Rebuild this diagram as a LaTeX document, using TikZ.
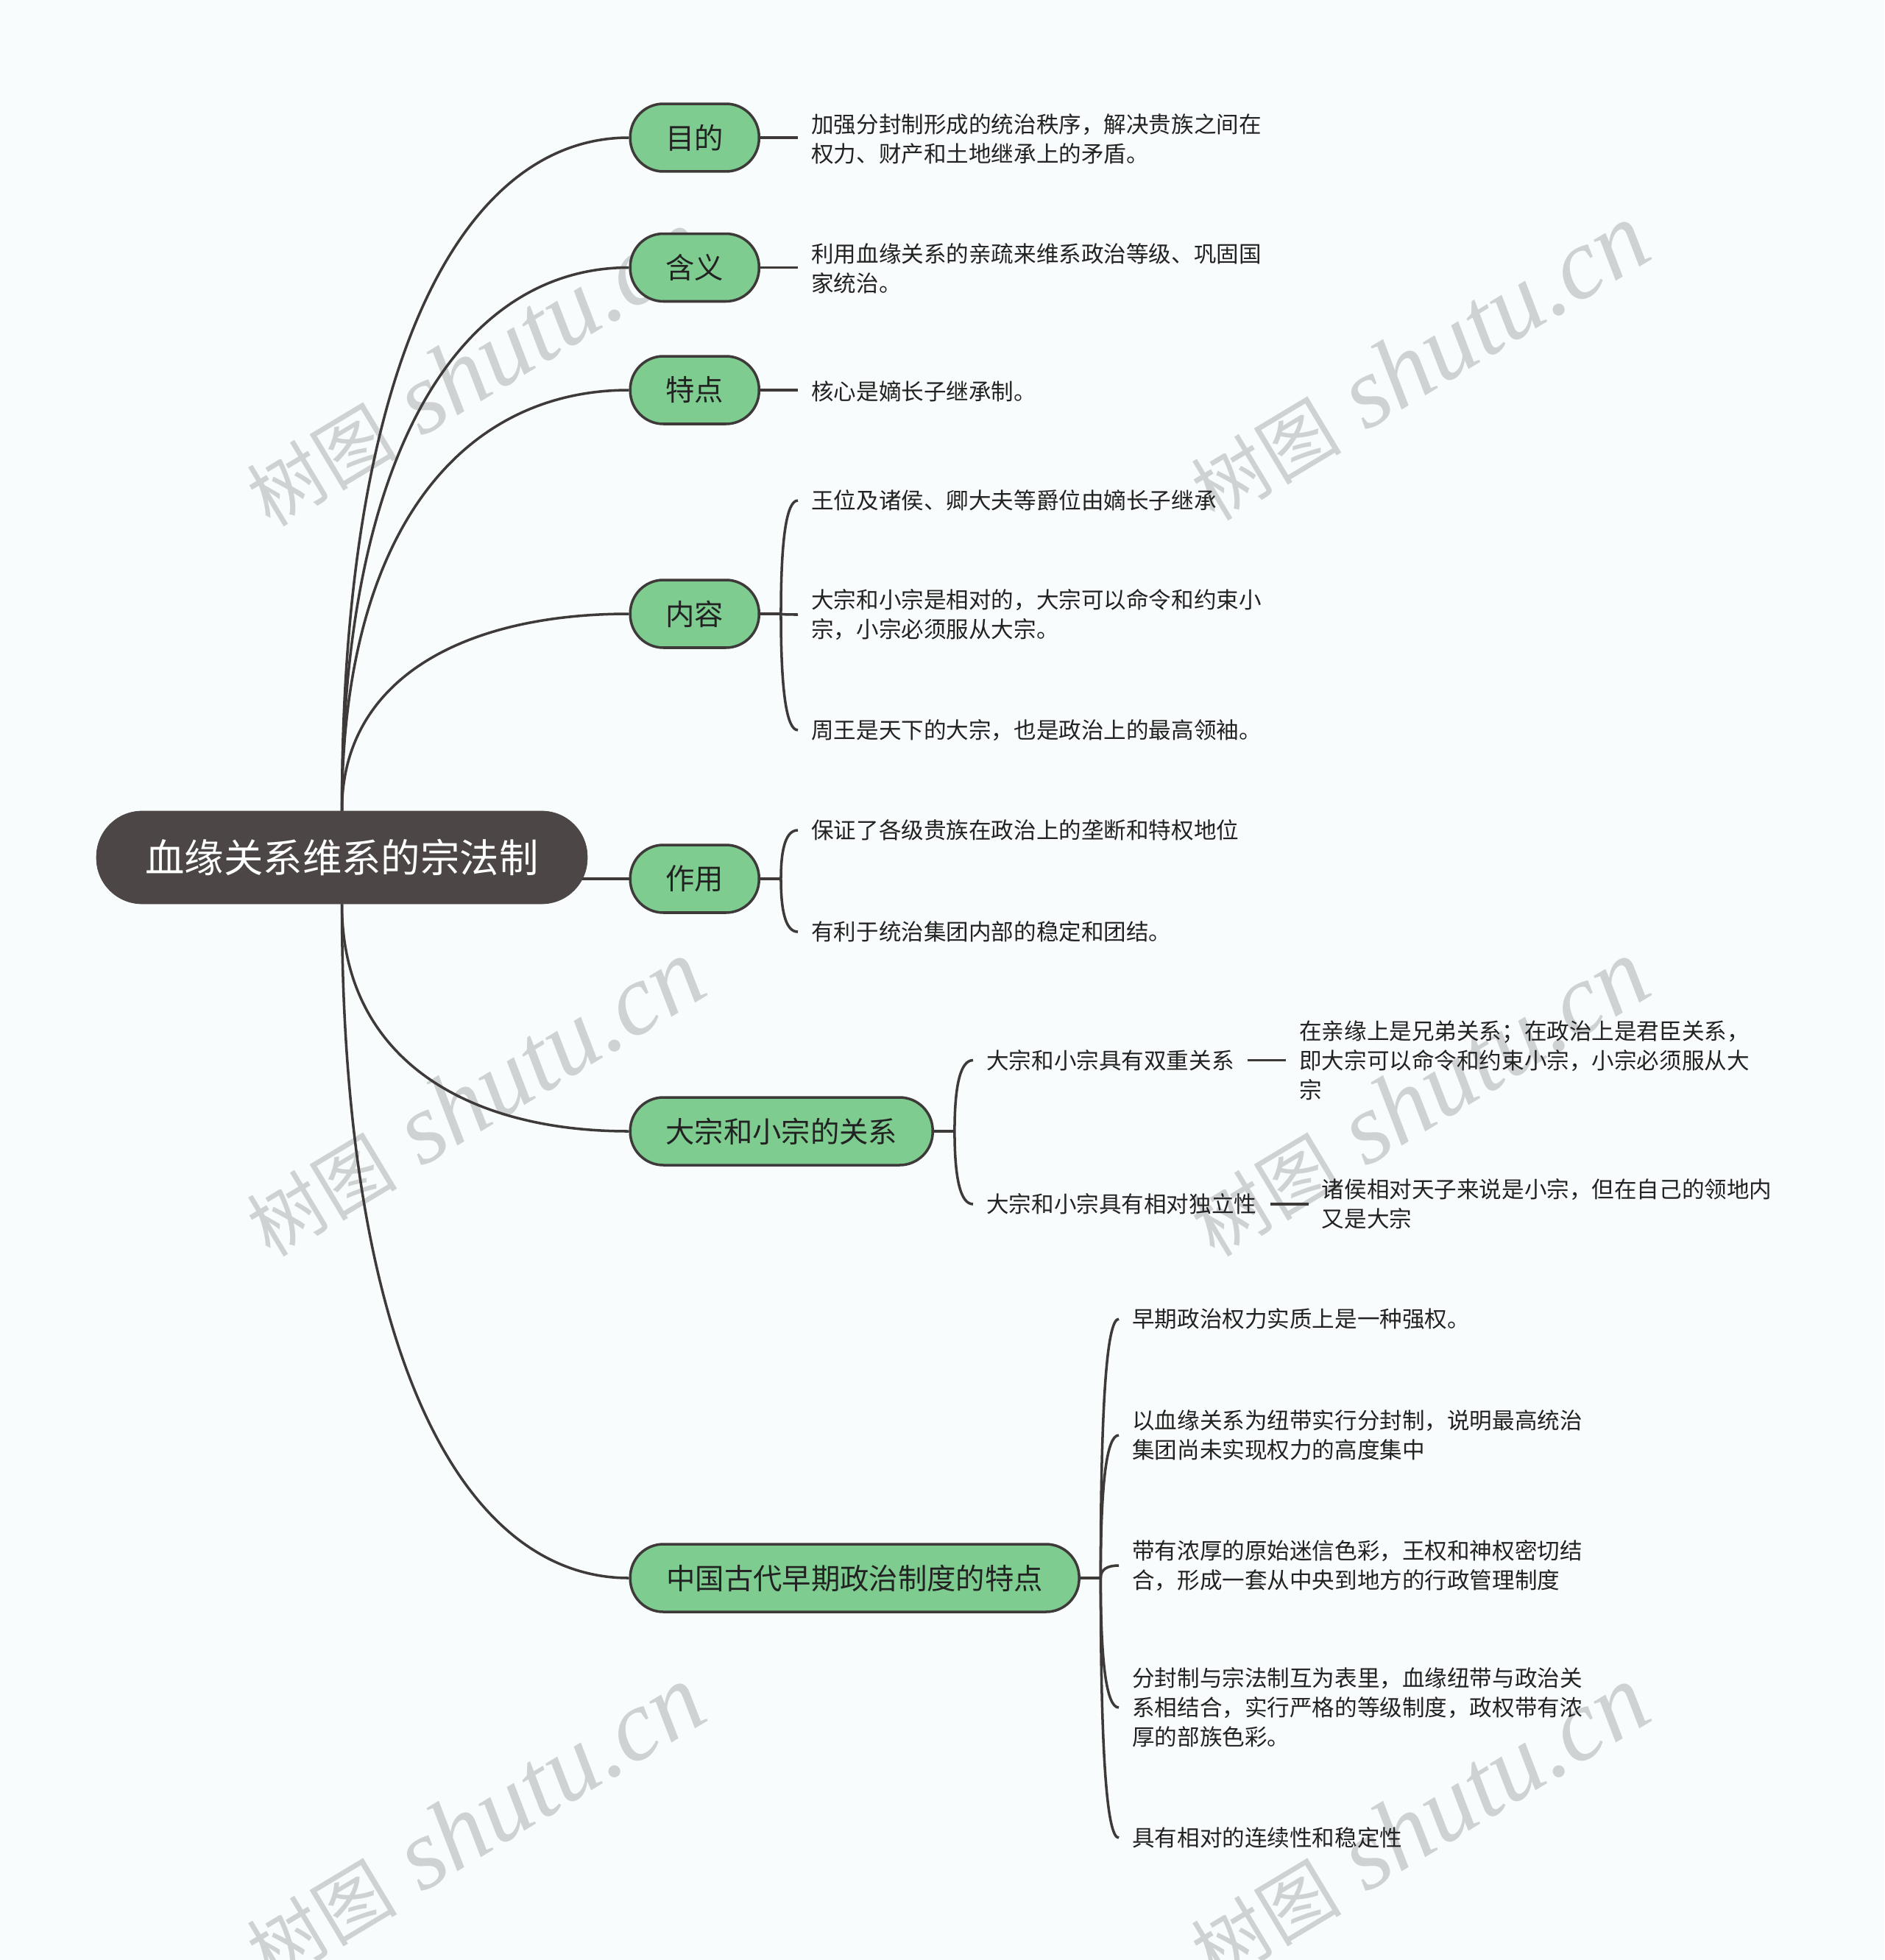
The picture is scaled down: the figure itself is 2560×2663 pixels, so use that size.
\documentclass[tikz,border=0pt]{standalone}
\usepackage{fontspec}
\setmainfont{Noto Sans CJK SC}
\newfontfamily\wmlatin{Liberation Serif}
\usetikzlibrary{calc}
\definecolor{bgc}{RGB}{248,252,252}
\definecolor{greenc}{RGB}{126,204,143}
\definecolor{edgec}{RGB}{62,58,58}
\definecolor{rootc}{RGB}{76,70,70}
\definecolor{txtc}{RGB}{34,34,34}
\definecolor{wmc}{RGB}{206,210,211}
\pgfdeclarelayer{wm}
\pgfdeclarelayer{ln}
\pgfsetlayers{wm,ln,main}
\tikzset{
  rootn/.style={draw=rootc, fill=rootc, rounded corners=1.24cm, minimum width=13.34cm, minimum height=2.52cm, inner sep=0pt, text=white, font=\fontsize{30.4pt}{36pt}\selectfont},
  gn/.style={draw=edgec, fill=greenc, line width=2pt, rounded corners=0.9cm, minimum height=1.84cm, inner sep=0pt, text=txtc, anchor=west, font=\fontsize{22.4pt}{27pt}\selectfont},
  tx/.style={anchor=west, align=left, inner xsep=0.36cm, inner ysep=0pt, text=txtc, font=\fontsize{17.4pt}{22.7pt}\selectfont},
  conn/.style={draw=edgec, line width=2pt},
  wmk/.style={rotate=31, text=wmc, inner sep=0pt},
  rc/.style={to path={let \p1=(\tikztostart), \p2=(\tikztotarget) in .. controls (\x1,{\y1+0.667*(\y2-\y1)}) and ({\x1+0.42*(\x2-\x1)},\y2) .. (\p2)}},
  bq/.style={to path={let \p1=(\tikztostart), \p2=(\tikztotarget) in .. controls (\x1,{\y1+0.667*(\y2-\y1)}) and ({\x1+0.333*(\x2-\x1)},\y2) .. (\p2)}},
}
\begin{document}
\begin{tikzpicture}[x=0.02cm, y=-0.02cm]
\useasboundingbox (0,0) rectangle (2560,2663);
\begin{pgfonlayer}{wm}
\fill[bgc] (0,0) rectangle (2560,2663);
\foreach \px/\py in {645/500, 1928/492, 645/1492, 1928/1492, 645/2478, 1928/2478}
  \node[wmk] at (\px,\py) {{\fontsize{58pt}{60pt}\selectfont 树图}{\wmlatin\itshape\fontsize{78pt}{80pt}\selectfont\ shutu.cn}};
\end{pgfonlayer}

% root and main branches
\node[rootn] (root) at (464.5,1165) {血缘关系维系的宗法制};
\node[gn, minimum width=3.5cm] (mudi) at (854.5,187) {目的};
\node[gn, minimum width=3.5cm] (hanyi) at (854.5,363.5) {含义};
\node[gn, minimum width=3.5cm] (tedian) at (854.5,530) {特点};
\node[gn, minimum width=3.5cm] (neirong) at (854.5,834) {内容};
\node[gn, minimum width=3.5cm] (zuoyong) at (854.5,1194) {作用};
\node[gn, minimum width=8.22cm] (dazong) at (854.5,1537) {大宗和小宗的关系};
\node[gn, minimum width=12.2cm] (zhongguo) at (854.5,2144) {中国古代早期政治制度的特点};

% leaves
\node[tx] (t1) at (1084,188.5) {加强分封制形成的统治秩序，解决贵族之间在\\权力、财产和土地继承上的矛盾。};
\node[tx] (t2) at (1084,365) {利用血缘关系的亲疏来维系政治等级、巩固国\\家统治。};
\node[tx] (t3) at (1084,532) {核心是嫡长子继承制。};

\node[tx] (c41) at (1084,680) {王位及诸侯、卿大夫等爵位由嫡长子继承};
\node[tx] (c42) at (1084,835) {大宗和小宗是相对的，大宗可以命令和约束小\\宗，小宗必须服从大宗。};
\node[tx] (c43) at (1084,992) {周王是天下的大宗，也是政治上的最高领袖。};

\node[tx] (c51) at (1084,1128) {保证了各级贵族在政治上的垄断和特权地位};
\node[tx] (c52) at (1084,1266) {有利于统治集团内部的稳定和团结。};

\node[tx] (c61) at (1322,1440.5) {大宗和小宗具有双重关系};
\node[tx] (c62) at (1322,1636) {大宗和小宗具有相对独立性};
\node[tx] (g61) at ([xshift=1.04cm]c61.east) {在亲缘上是兄弟关系；在政治上是君臣关系，\\即大宗可以命令和约束小宗，小宗必须服从大\\宗};
\node[tx] (g62) at ([xshift=1.04cm]c62.east) {诸侯相对天子来说是小宗，但在自己的领地内\\又是大宗};

\node[tx] (c71) at (1520,1792) {早期政治权力实质上是一种强权。};
\node[tx] (c72) at (1520,1950) {以血缘关系为纽带实行分封制，说明最高统治\\集团尚未实现权力的高度集中};
\node[tx] (c73) at (1520,2127) {带有浓厚的原始迷信色彩，王权和神权密切结\\合，形成一套从中央到地方的行政管理制度};
\node[tx] (c74) at (1520,2320) {分封制与宗法制互为表里，血缘纽带与政治关\\系相结合，实行严格的等级制度，政权带有浓\\厚的部族色彩。};
\node[tx] (c75) at (1520,2497) {具有相对的连续性和稳定性};

\coordinate (b4) at ([xshift=0.56cm]neirong.east);
\coordinate (b5) at ([xshift=0.56cm]zuoyong.east);
\coordinate (b6) at ([xshift=0.56cm]dazong.east);
\coordinate (b7) at ([xshift=0.55cm]zhongguo.east);

\begin{pgfonlayer}{ln}
\draw[conn] (root.north) to[rc] (mudi.west);
\draw[conn] (root.north) to[rc] (hanyi.west);
\draw[conn] (root.north) to[rc] (tedian.west);
\draw[conn] (root.north) to[rc] (neirong.west);
\draw[conn] ([xshift=-1cm]root.east |- zuoyong.west) -- (zuoyong.west);
\draw[conn] (root.south) to[rc] (dazong.west);
\draw[conn] (root.south) to[rc] (zhongguo.west);

\draw[conn] (mudi.east) -- (mudi.east -| t1.west);
\draw[conn] (hanyi.east) -- (hanyi.east -| t2.west);
\draw[conn] (tedian.east) -- (tedian.east -| t3.west);

\draw[conn] (neirong.east) -- (b4);
\foreach \c in {c41,c42,c43} \draw[conn] (b4) to[bq] (\c.west);
\draw[conn] (zuoyong.east) -- (b5);
\foreach \c in {c51,c52} \draw[conn] (b5) to[bq] (\c.west);
\draw[conn] (dazong.east) -- (b6);
\foreach \c in {c61,c62} \draw[conn] (b6) to[bq] (\c.west);
\draw[conn] (c61.east) -- (c61.east -| g61.west);
\draw[conn] (c62.east) -- (c62.east -| g62.west);
\draw[conn] (zhongguo.east) -- (b7);
\foreach \c in {c71,c72,c73,c74,c75} \draw[conn] (b7) to[bq] (\c.west);
\end{pgfonlayer}
\end{tikzpicture}
\end{document}
